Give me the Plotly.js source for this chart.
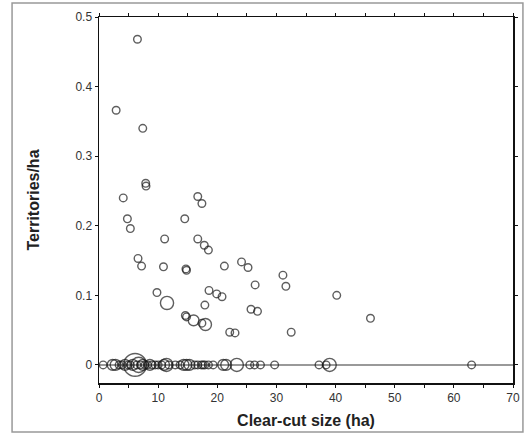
<!DOCTYPE html>
<html>
<head>
<meta charset="utf-8">
<script src="https://cdn.plot.ly/plotly-3.0.1.min.js"></script>
<style>html,body{margin:0;padding:0;background:#fff;}#chart{width:531px;height:436px;}</style>
</head>
<body>
<div id="chart"></div>
<script>
// Clear-cuts with territories (x = size ha, y = territories/ha, n = weight)
var occX = [6.5, 2.9, 7.4, 7.9, 7.95, 4.1, 16.7, 17.4, 4.8, 5.3, 14.5, 11.1, 16.7, 17.8, 18.5, 6.6, 7.2, 10.9, 14.7, 14.8, 21.2, 24.1, 25.2, 31.1, 31.6, 26.4, 18.6, 19.9, 20.8, 9.8, 11.5, 17.9, 14.6, 14.8, 16.0, 17.4, 18.0, 25.7, 26.8, 22.1, 23.0, 32.5, 40.2, 45.9];
var occY = [0.468, 0.366, 0.340, 0.261, 0.257, 0.240, 0.242, 0.232, 0.210, 0.196, 0.210, 0.181, 0.181, 0.172, 0.165, 0.153, 0.142, 0.141, 0.138, 0.136, 0.142, 0.148, 0.140, 0.129, 0.113, 0.115, 0.107, 0.102, 0.098, 0.104, 0.089, 0.086, 0.071, 0.069, 0.064, 0.060, 0.058, 0.080, 0.077, 0.047, 0.046, 0.047, 0.100, 0.067];
var occN = [1, 1, 1, 1, 1, 1, 1, 1, 1, 1, 1, 1, 1, 1, 1, 1, 1, 1, 1, 1, 1, 1, 1, 1, 1, 1, 1, 1, 1, 1, 3, 1, 1, 1, 2, 1, 2.5, 1, 1, 1, 1, 1, 1, 1];
// Clear-cuts without territories (y = 0)
var emptyX = [0.7, 2.3, 2.8, 3.4, 3.9, 4.4, 4.9, 5.3, 5.7, 6.1, 6.7, 6.4, 7.0, 7.4, 7.8, 8.2, 8.6, 9.0, 9.5, 10.0, 10.6, 11.0, 11.4, 11.8, 12.9, 13.7, 14.3, 14.8, 15.3, 16.2, 16.7, 17.3, 17.6, 17.9, 18.5, 19.3, 21.0, 21.5, 23.3, 25.5, 26.3, 27.3, 29.7, 37.2, 38.4, 39.0, 63.0];
var emptyN = [1, 2, 2, 1, 1, 2, 1, 1, 2, 9, 4, 1, 1, 2, 1, 1, 2, 1, 1, 1, 1, 2, 3, 1, 1, 1, 2, 2, 2, 1, 1, 1, 1, 1, 1, 1, 2, 2, 3, 1, 1, 1, 1, 1, 1, 3, 1];
var xTicks = [0, 10, 20, 30, 40, 50, 60, 70];
var yTicks = [0, 0.1, 0.2, 0.3, 0.4, 0.5];

function sz(arr) { return arr.map(function (n) { return 7.6 * Math.sqrt(n); }); }
var emptyY = emptyX.map(function () { return 0; });

var mk = function (n) {
  return { symbol: 'circle-open', color: '#1a1a1a', size: sz(n), line: { width: 1.4 } };
};

var traces = [
  { type: 'scatter', mode: 'markers', x: emptyX, y: emptyY, marker: mk(emptyN), hoverinfo: 'x+y', cliponaxis: false },
  { type: 'scatter', mode: 'markers', x: occX, y: occY, marker: mk(occN), hoverinfo: 'x+y', cliponaxis: false }
];

var fontFam = '"Liberation Sans", Arial, Helvetica, sans-serif';
var layout = {
  width: 531, height: 436,
  margin: { l: 99, r: 18, t: 17, b: 53, pad: 0 },
  showlegend: false,
  paper_bgcolor: '#fff', plot_bgcolor: '#fff',
  font: { family: fontFam, size: 12, color: '#333' },
  xaxis: {
    range: [0, 70], tickvals: xTicks, ticktext: xTicks.map(String),
    showgrid: false, zeroline: false,
    showline: true, linecolor: '#111', linewidth: 1.5, mirror: 'ticks',
    ticks: 'outside', ticklen: 3, tickcolor: '#111', tickwidth: 1,
    minor: { dtick: 5, ticks: 'outside', ticklen: 3, tickcolor: '#111', showgrid: false },
    tickfont: { size: 12, color: '#333' },
    title: { text: '<b>Clear-cut size (ha)</b>', font: { size: 16, color: '#222' }, standoff: 11 }
  },
  yaxis: {
    range: [-0.026, 0.5], tickvals: yTicks, ticktext: yTicks.map(String),
    showgrid: false, zeroline: true, zerolinecolor: '#999', zerolinewidth: 1.5,
    showline: true, linecolor: '#111', linewidth: 1.5, mirror: 'ticks',
    ticks: 'outside', ticklen: 3, tickcolor: '#111', tickwidth: 1,
    tickfont: { size: 12, color: '#333' },
    title: { text: '<b>Territories/ha</b>', font: { size: 16, color: '#222' }, standoff: 32 }
  },
  shapes: [{
    type: 'rect', xref: 'paper', yref: 'paper',
    x0: -0.210, x1: 1.024, y0: -0.134, y1: 1.038,
    line: { color: '#999', width: 1.5 }, fillcolor: 'rgba(0,0,0,0)', layer: 'below'
  }]
};

Plotly.newPlot('chart', traces, layout, { displayModeBar: false, staticPlot: true });
</script>
</body>
</html>
